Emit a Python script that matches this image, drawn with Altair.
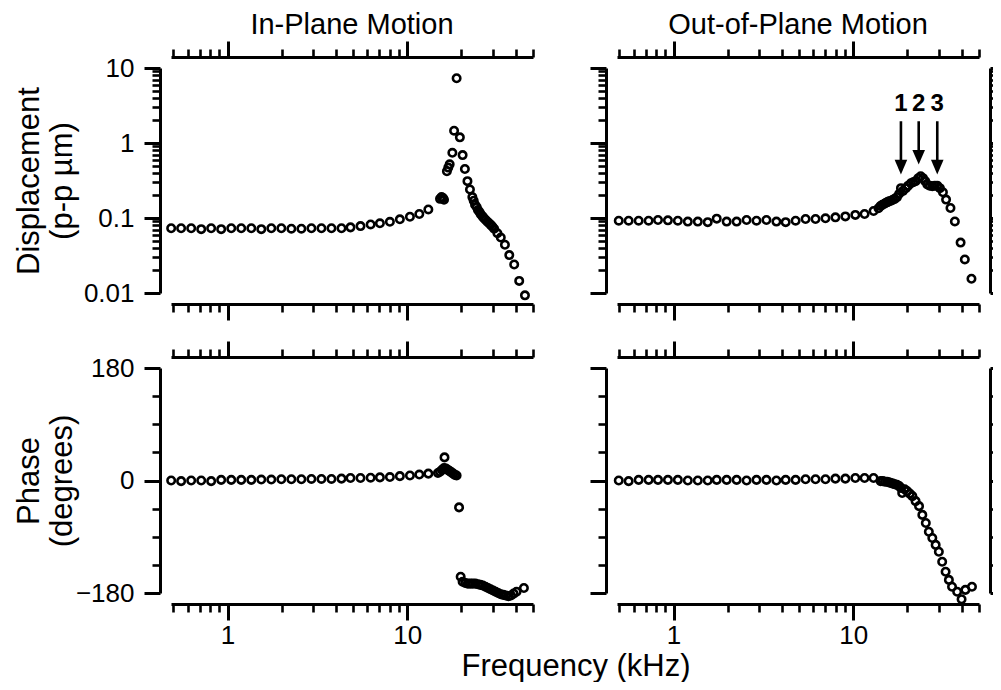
import altair as alt
import pandas as pd

FONT = "Liberation Sans"

# ---------------- data (frequency in kHz) ----------------
flat_ip_freq = [0.486, 0.552, 0.628, 0.714, 0.811, 0.922, 1.049, 1.192, 1.356, 1.541, 1.752,
                1.992, 2.265, 2.575, 2.928, 3.329, 3.785, 4.303, 4.83, 5.49, 6.25, 7.04, 8.0,
                9.09, 10.34, 11.66, 13.09]

ip_disp_freq = flat_ip_freq + [15.2, 15.5, 15.8, 16.0, 16.6, 16.9, 17.2, 17.8, 18.2, 18.8, 19.6,
                               20.3, 20.9, 21.6, 22.3, 23.0, 23.4, 23.8, 24.3, 24.7, 25.2, 25.6,
                               26.2, 26.7, 27.3, 27.9, 28.5, 29.1, 29.7, 30.4, 31.7, 33.1, 34.9,
                               36.9, 39.3, 41.9, 45.1]
ip_disp_val = [0.073, 0.073, 0.073, 0.071, 0.073, 0.071, 0.073, 0.073, 0.073, 0.071, 0.073,
               0.073, 0.072, 0.072, 0.073, 0.073, 0.073, 0.073, 0.075, 0.078, 0.082, 0.085,
               0.089, 0.096, 0.104, 0.113, 0.130,
               0.18, 0.19, 0.185, 0.175, 0.42, 0.47, 0.52, 0.74, 1.46, 7.3, 1.19,
               0.69, 0.45, 0.31, 0.24, 0.19, 0.17, 0.15, 0.14, 0.128, 0.12, 0.112,
               0.105, 0.099, 0.094, 0.089, 0.085, 0.081, 0.077, 0.072, 0.0625, 0.055, 0.044,
               0.032, 0.024, 0.0145, 0.0093]

ip_phase_freq = flat_ip_freq + [14.8, 15.2, 15.6, 16.0, 16.1, 16.4, 16.8, 17.2, 17.6, 18.0, 18.4,
                                18.8, 19.4, 19.8, 20.3, 21.0, 21.7, 22.4, 23.1, 23.9, 24.7, 25.5,
                                26.3, 27.2, 28.1, 29.0, 30.0, 31.0, 32.0, 33.1, 34.2, 35.3, 36.5,
                                37.7, 39.0, 40.5, 44.5]
ip_phase_val = [0, -1, 0, 0, -1, 1, 1, 1, 1, 1.5, 1.5, 2, 2, 2, 2.5, 2.5, 2.5, 3, 4, 4, 4.5, 5,
                5.5, 7, 8, 9.5, 11,
                12, 14, 17, 20, 37, 19, 17, 15, 13, 11, 9, 8, -43, -154, -162, -164, -165, -165,
                -165, -165, -166, -167, -168, -170, -172, -174, -176, -178, -180, -182, -183,
                -184, -185, -184, -181, -178, -172]

flat_op_freq = [0.496, 0.563, 0.64, 0.727, 0.82, 0.931, 1.057, 1.201, 1.365, 1.55, 1.739, 1.975,
                2.244, 2.549, 2.894, 3.287, 3.735, 4.205, 4.775, 5.425, 6.163, 7.0, 7.95, 9.03,
                10.26, 11.55, 12.96]

op_disp_freq = flat_op_freq + [13.8, 14.2, 14.5, 14.9, 15.2, 15.5, 15.8, 16.2, 16.6, 17.0, 17.5,
                               18.0, 18.4, 18.9, 19.6, 20.2, 20.9, 21.5, 22.2, 23.0, 23.7, 24.4,
                               25.1, 25.8, 26.6, 27.5, 28.4, 29.3, 30.3, 31.5, 32.8, 34.7, 36.7,
                               39.5, 41.7, 45.4]
op_disp_val = [0.092, 0.092, 0.092, 0.092, 0.094, 0.093, 0.092, 0.0895, 0.0895, 0.088, 0.098,
               0.0895, 0.0895, 0.094, 0.092, 0.094, 0.0895, 0.088, 0.092, 0.097, 0.097, 0.099,
               0.102, 0.105, 0.11, 0.113, 0.124,
               0.135, 0.145, 0.15, 0.155, 0.16, 0.163, 0.167, 0.17, 0.175, 0.18, 0.19, 0.21,
               0.25, 0.23, 0.25, 0.27, 0.29, 0.30, 0.31, 0.34, 0.36, 0.34, 0.31, 0.28, 0.27,
               0.265, 0.27, 0.27, 0.25, 0.22, 0.176, 0.136, 0.09, 0.047, 0.028, 0.0155]

op_phase_freq = flat_op_freq + [14.2, 14.6, 15.0, 15.4, 15.8, 16.2, 16.6, 17.0, 17.5, 18.0, 18.4,
                                18.7, 19.3, 19.9, 20.6, 21.3, 22.2, 23.2, 24.2, 25.3, 26.3, 27.5,
                                28.7, 29.9, 31.2, 32.6, 34.0, 35.4, 37.8, 40.0, 42.0, 45.7]
op_phase_val = [0, -1, 1, 1, 1, 1, 1, 0, 0, 0, 1, 1, 1, 0, 1, 1, 0, 1, 1, 2, 2, 2, 3, 3, 4, 4, 4,
                -1, -1, -2, -2, -3, -4, -5, -6, -7, -9, -12, -20, -14, -17, -21, -25, -33, -41,
                -55, -68, -82, -92, -103, -114, -130, -146, -159, -170, -178, -190, -175, -170]

# arrows marking the three out-of-plane peaks
arrow_freq = [18.4, 23.1, 29.3]
arrow_label = ["1", "2", "3"]
arrow_top = [1.95, 1.95, 1.95]
arrow_shaft_end = [0.52, 0.71, 0.52]
arrow_tip = [0.38, 0.515, 0.38]
arrow_label_y = [3.3, 3.3, 3.3]

# tick values
x_major = [1, 10]
x_minor = [0.5, 0.6, 0.7, 0.8, 0.9, 2, 3, 4, 5, 6, 7, 8, 9, 20, 30, 40, 50]
disp_major = [0.01, 0.1, 1, 10]
disp_minor = [0.02, 0.03, 0.04, 0.05, 0.06, 0.07, 0.08, 0.09,
              0.2, 0.3, 0.4, 0.5, 0.6, 0.7, 0.8, 0.9,
              2, 3, 4, 5, 6, 7, 8, 9]
phase_major = [-180, 0, 180]
phase_minor = [-135, -90, -45, 45, 90, 135]

# ---------------- styling ----------------
W, H = 362, 225
MAJ, MIN = 16, 8
OFF = 11
X_DOMAIN = [0.485, 50]
ARROW = "M -0.9 -2.1 L 0.9 -2.1 L 0 0 Z"
TITLE_SIZE = 29


def x_axis(orient, major, labels=False, **extra):
    kw = dict(orient=orient, values=x_major if major else x_minor,
              tickSize=MAJ if major else MIN, tickWidth=3 if major else 2.6,
              domain=major, domainWidth=3, domainColor="black", tickColor="black",
              labels=labels, offset=OFF, grid=False,
              format="~g", labelPadding=2, labelFontSize=26, labelFont=FONT,
              labelColor="black", title=None)
    kw.update(extra)
    return alt.Axis(**kw)


def y_axis(orient, values, major, labels=False, fmt="~g", **extra):
    kw = dict(orient=orient, values=values,
              tickSize=MAJ if major else MIN, tickWidth=3 if major else 2.6,
              domain=major, domainWidth=3, domainColor="black", tickColor="black",
              labels=labels, offset=OFF if orient == "left" else 11,
              grid=False, format=fmt, labelPadding=10, labelFontSize=26, labelFont=FONT,
              labelColor="black", title=None)
    kw.update(extra)
    return alt.Axis(**kw)


def panel(freq, val, yscale, ymajor, yminor, yfmt, left_labels, right_axis, bottom_labels,
          ytitle=None, xtitle=None, title=None, extra=()):
    df = pd.DataFrame({"f": freq, "v": val})
    xs = alt.Scale(type="log", domain=X_DOMAIN, nice=False)
    base = alt.Chart(df)

    yextra = {}
    if ytitle is not None:
        yextra = dict(title=ytitle, titleX=-146, titleY=H / 2, titleAngle=270,
                      titleAlign="center", titleBaseline="top", titleLineHeight=33,
                      titleFont=FONT, titleFontSize=31, titleFontWeight="normal",
                      titleColor="black")
    xextra = {}
    if xtitle is not None:
        xextra = dict(title=xtitle, titleX=404.5, titleY=71, titleAlign="center",
                      titleBaseline="alphabetic", titleFont=FONT, titleFontSize=31,
                      titleFontWeight="normal", titleColor="black")

    pts = base.mark_point(shape="circle", filled=False, size=55, strokeWidth=2.6,
                          color="black", opacity=1).encode(
        x=alt.X("f:Q", scale=xs, axis=x_axis("bottom", True, bottom_labels, **xextra)),
        y=alt.Y("v:Q", scale=yscale,
                axis=y_axis("left", ymajor, True, left_labels, yfmt, **yextra)),
    )
    l2 = base.mark_point(opacity=0).encode(
        x=alt.X("f:Q", scale=xs, axis=x_axis("bottom", False)),
        y=alt.Y("v:Q", scale=yscale, axis=y_axis("left", yminor, False)),
    )
    l3 = base.mark_point(opacity=0).encode(
        x=alt.X("f:Q", scale=xs, axis=x_axis("top", True)),
        y=alt.Y("v:Q", scale=yscale,
                axis=y_axis("right", ymajor, True) if right_axis else None),
    )
    l4 = base.mark_point(opacity=0).encode(
        x=alt.X("f:Q", scale=xs, axis=x_axis("top", False)),
        y=alt.Y("v:Q", scale=yscale,
                axis=y_axis("right", yminor, False) if right_axis else None),
    )
    layers = [pts, l2, l3, l4]
    for mk in extra:
        layers.append(mk(xs, yscale))
    ch = alt.layer(*layers).resolve_axis(x="independent", y="independent").properties(
        width=W, height=H)
    if title is not None:
        ch = ch.properties(title=alt.TitleParams(text=title, fontSize=TITLE_SIZE, font=FONT,
                                                 fontWeight="normal", color="black",
                                                 anchor="middle", frame="group", offset=0))
    return ch


adf = pd.DataFrame({"f": arrow_freq, "label": arrow_label, "top": arrow_top,
                    "end": arrow_shaft_end, "tip": arrow_tip, "ly": arrow_label_y})


def shafts(xs, ys):
    return alt.Chart(adf).mark_rule(strokeWidth=2.6, color="black").encode(
        x=alt.X("f:Q", scale=xs, axis=None),
        y=alt.Y("top:Q", scale=ys, axis=None), y2="end:Q")


def heads(xs, ys):
    return alt.Chart(adf).mark_point(shape=ARROW, filled=True, size=196, color="black",
                                     opacity=1).encode(
        x=alt.X("f:Q", scale=xs, axis=None),
        y=alt.Y("tip:Q", scale=ys, axis=None))


def labels(xs, ys):
    return alt.Chart(adf).mark_text(font=FONT, fontSize=24, fontWeight="bold",
                                    color="black").encode(
        x=alt.X("f:Q", scale=xs, axis=None),
        y=alt.Y("ly:Q", scale=ys, axis=None),
        text="label:N")


disp_scale = alt.Scale(type="log", domain=[0.01, 10], nice=False)
phase_scale = alt.Scale(domain=[-180, 180], nice=False, zero=False)

tl = panel(ip_disp_freq, ip_disp_val, disp_scale, disp_major, disp_minor, "~g", True, False,
           False, ytitle=["Displacement", "(p-p µm)"], title="In-Plane Motion")
tr = panel(op_disp_freq, op_disp_val, disp_scale, disp_major, disp_minor, "~g", False, True,
           False, title="Out-of-Plane Motion", extra=(shafts, heads, labels))
bl = panel(ip_phase_freq, ip_phase_val, phase_scale, phase_major, phase_minor, "d", True, False,
           True, ytitle=["Phase", "(degrees)"], xtitle="Frequency (kHz)")
br = panel(op_phase_freq, op_phase_val, phase_scale, phase_major, phase_minor, "d", False, True,
           True)

chart = alt.concat(tl, tr, bl, br, columns=2, spacing={"row": 75, "column": 84},
                   bounds="flush").properties(
    autosize=alt.AutoSizeParams(type="none"),
    padding={"left": 163, "top": 60, "right": 822, "bottom": 614},
    background="white",
).configure_view(stroke="transparent")

chart.save("out.html", embed_options={"renderer": "svg", "actions": False})
